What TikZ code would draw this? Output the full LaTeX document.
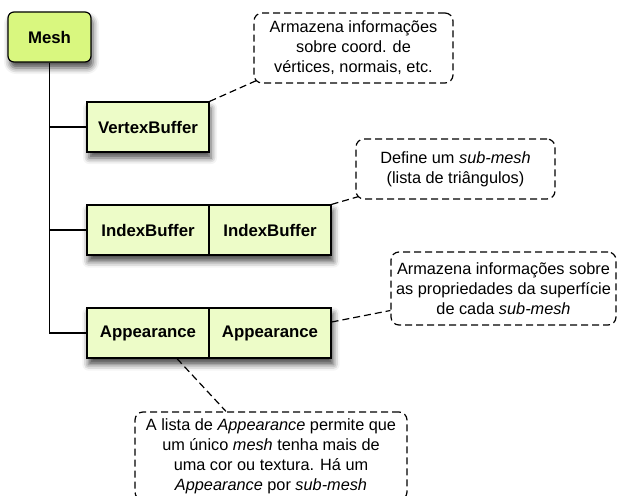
\documentclass[tikz,border=0pt]{standalone}
\usepackage{fontspec}
\setmainfont{Liberation Sans}
\usetikzlibrary{shadows.blur,backgrounds}
\definecolor{meshgreen}{HTML}{D9F77F}
\definecolor{boxgreen}{HTML}{EDFCC8}
\tikzset{
  softshadow/.style={blur shadow={shadow xshift=2pt, shadow yshift=-6pt,
      shadow blur radius=6pt, shadow opacity=70}},
  meshbox/.style={draw, line width=1.2pt, fill=meshgreen, rounded corners=6pt,
      minimum width=83pt, minimum height=50pt, inner sep=0pt,
      font=\fontsize{16.8}{20}\selectfont\bfseries, softshadow},
  bufbox/.style={draw, line width=1.2pt, fill=boxgreen,
      minimum width=122pt, minimum height=50pt, inner sep=0pt,
      font=\fontsize{16.8}{20}\selectfont\bfseries},
  note/.style={draw, line width=1.2pt, dash pattern=on 7pt off 4pt,
      rounded corners=8pt, inner sep=0pt, align=center,
      font=\fontsize{16.3}{20}\selectfont},
  tree/.style={line width=1.2pt},
  link/.style={line width=1.2pt, dash pattern=on 7pt off 4pt}
}
\begin{document}
\begin{tikzpicture}[x=1pt,y=-1pt]
\useasboundingbox (0,0) rectangle (623,495);

% root
\node[meshbox] (mesh) at (49.5,37) {Mesh};

% children
\node[bufbox, softshadow] (vb) at (148,127) {VertexBuffer};
\node[bufbox] (ib1) at (148,230) {IndexBuffer};
\node[bufbox] (ib2) at (270,230) {IndexBuffer};
\node[bufbox] (ap1) at (148,333) {Appearance};
\node[bufbox] (ap2) at (270,333) {Appearance};

% shared shadow behind the two-cell rows
\begin{scope}[on background layer]
  \path[fill=boxgreen, softshadow] (ib1.north west) rectangle (ib2.south east);
  \path[fill=boxgreen, softshadow] (ap1.north west) rectangle (ap2.south east);
\end{scope}

% tree
\draw[tree] (mesh.south) -- (mesh.south |- ap1.west) -- (ap1.west);
\draw[tree] (mesh.south |- vb.west) -- (vb.west);
\draw[tree] (mesh.south |- ib1.west) -- (ib1.west);

% notes
\node[note, minimum width=199pt, minimum height=70pt] (n1) at (353.5,48)
  {Armazena informações\\sobre coord. de\\vértices, normais, etc.};
\node[note, minimum width=199pt, minimum height=60pt] (n2) at (455.5,169)
  {Define um \textit{sub-mesh}\\(lista de triângulos)};
\node[note, minimum width=225pt, minimum height=73pt] (n3) at (503.5,288.5)
  {Armazena informações sobre\\as propriedades da superfície\\de cada \textit{sub-mesh}};
\node[note, minimum width=272pt, minimum height=88pt] (n4) at (271,456)
  {A lista de \textit{Appearance} permite que\\um único \textit{mesh} tenha mais de\\uma cor ou textura. Há um\\\textit{Appearance} por \textit{sub-mesh}};

% note links
\draw[link] (vb.north east) -- ([shift={(3pt,3pt)}]n1.south west);
\draw[link] (ib2.north east) -- ([shift={(3pt,3pt)}]n2.south west);
\draw[link] ([yshift=11pt]ap2.east) -- ([yshift=-22pt]n3.west);
\draw[link] ([xshift=29pt]ap1.south) -- ([xshift=-45pt]n4.north);
\end{tikzpicture}
\end{document}
